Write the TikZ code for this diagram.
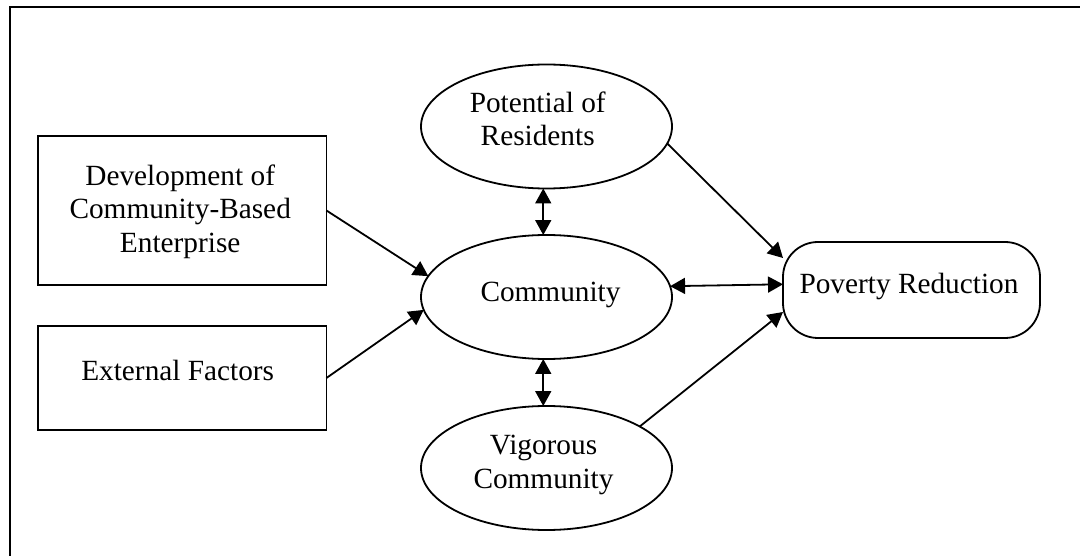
\documentclass[tikz,border=0pt]{standalone}
\usepackage{fontspec}
\setmainfont{Liberation Serif}
\usetikzlibrary{shapes.geometric,arrows.meta,calc}

\begin{document}
\begin{tikzpicture}[x=1pt,y=-1pt,
  every label/.style={font=\fontsize{29.3}{33.5}\selectfont, align=center, inner sep=0pt},
  box/.style={draw, line width=1.8pt, inner sep=0pt, outer sep=0pt, minimum width=288.5pt},
  oval/.style={draw, ellipse, line width=1.8pt, inner sep=0pt, outer sep=0pt,
               minimum width=251pt, minimum height=124pt},
  pill/.style={draw, rectangle, rounded corners=35pt, line width=1.8pt, inner sep=0pt,
               outer sep=0pt, minimum width=257pt, minimum height=96pt},
  link/.style={line width=1.8pt, -{Triangle[length=15pt,width=16pt]}},
  both/.style={line width=1.8pt, {Triangle[length=15pt,width=16pt]}-{Triangle[length=15pt,width=16pt]}}]

\useasboundingbox (0,0) rectangle (1080,556);
\clip (0,0) rectangle (1080,556);

% outer frame
\draw[line width=2.4pt] (10,7) rectangle (1100,600);

% left boxes
\node[box, minimum height=149pt] (dev) at (182.2,210.5)
  [label={[shift={(-2,1.2)}]center:Development of\\Community-Based\\Enterprise}] {};
\node[box, minimum height=104pt] (ext) at (182.2,378)
  [label={[shift={(-4.5,-8)}]center:External Factors}] {};

% central ovals
\node[oval] (pot) at (546.5,126.5)
  [label={[shift={(-8.8,-7.5)}]center:Potential of\\Residents}] {};
\node[oval] (com) at (546.5,297)
  [label={[shift={(4,-1.7)}]center:Community}] {};
\node[oval] (vig) at (546.5,468)
  [label={[shift={(-3,-3)}]center:Vigorous\\Community}] {};

% outcome
\node[pill] (pov) at (911.5,290)
  [label={[shift={(-2.5,-3.8)}]center:Poverty Reduction}] {};

% connectors
\draw[link] (dev.east) -- (com.170.4);
\draw[link] (ext.east) -- (com.186.5);
\draw[both] (pot.-93.5) -- (com.93.5);
\draw[both] (com.-93.5) -- (vig.93.5);
\draw[both] (com.5.9) -- ($(pov.west)+(0,-5.7)$);
\draw[link] (pot.-8.8) -- ($(pov.west)+(0,-32)$);
\draw[link] (vig.24.5) -- ($(pov.west)+(0,22)$);

\end{tikzpicture}
\end{document}
